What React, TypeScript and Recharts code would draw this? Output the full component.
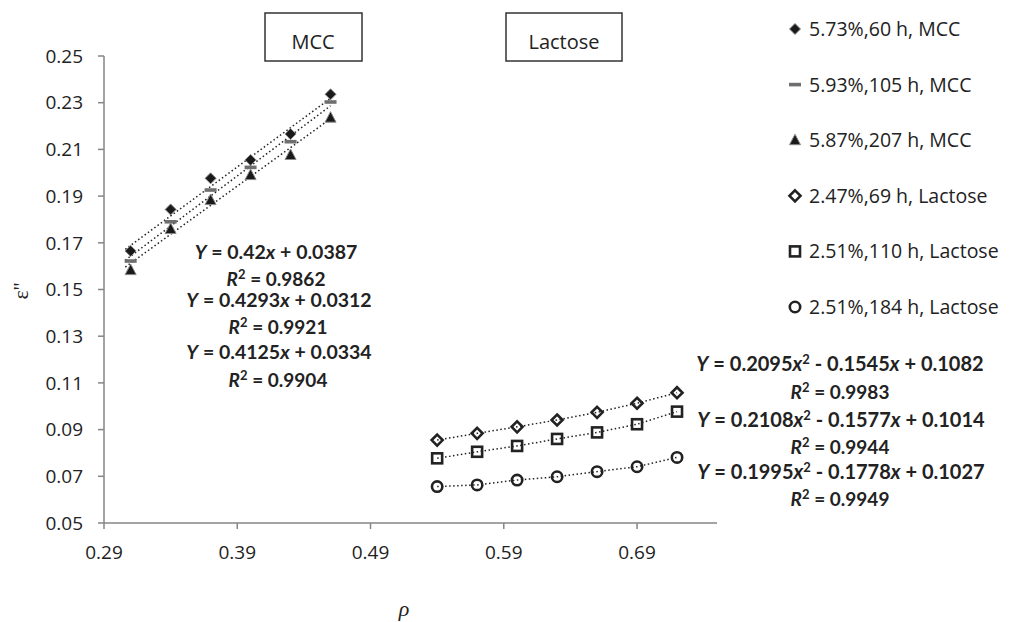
import { ScatterChart, Scatter, XAxis, YAxis, ReferenceLine, Legend } from "recharts";

const mccRho = [0.31, 0.34, 0.37, 0.4, 0.43, 0.46];
const mcc60h = [0.1665, 0.1843, 0.1976, 0.2055, 0.2166, 0.2336];
const mcc105h = [0.1622, 0.179, 0.1926, 0.2023, 0.2133, 0.2303];
const mcc207h = [0.1583, 0.1759, 0.1883, 0.199, 0.2076, 0.2236];

const lacRho = [0.54, 0.57, 0.6, 0.63, 0.66, 0.69, 0.72];
const lac69h = [0.0855, 0.0884, 0.0912, 0.0941, 0.0974, 0.1013, 0.1058];
const lac110h = [0.0777, 0.0805, 0.083, 0.086, 0.0888, 0.0923, 0.0977];
const lac184h = [0.0656, 0.0663, 0.0684, 0.0698, 0.072, 0.0741, 0.0781];

const seriesNames = [
  "5.73%,60 h, MCC",
  "5.93%,105 h, MCC",
  "5.87%,207 h, MCC",
  "2.47%,69 h, Lactose",
  "2.51%,110 h, Lactose",
  "2.51%,184 h, Lactose",
];

// linear trend lines for MCC (slope, intercept as printed on the chart)
const mccSlopes = [0.42, 0.4293, 0.4125];
const mccIntercepts = [0.0387, 0.0312, 0.0334];

const xTicks = [0.29, 0.39, 0.49, 0.59, 0.69];
const yTicks = [0.05, 0.07, 0.09, 0.11, 0.13, 0.15, 0.17, 0.19, 0.21, 0.23, 0.25];

const toPoints = (xs: number[], ys: number[]) => xs.map((x, i) => ({ x, y: ys[i] }));

const FONT = "Lato, 'Open Sans', sans-serif";
const FONT2 = "'Open Sans', sans-serif";
const INK = "#222";
const DOT = "1.5 2.5";

const Diamond = ({ cx, cy }: any) => (
  <path d={`M${cx},${cy - 5.5}L${cx + 5.5},${cy}L${cx},${cy + 5.5}L${cx - 5.5},${cy}Z`} fill="#1a1a1a" stroke="#8a8a8a" strokeWidth={1} />
);
const Dash = ({ cx, cy }: any) => (
  <rect x={cx - 6} y={cy - 1.8} width={12} height={3.6} fill="#6f6f6f" />
);
const Triangle = ({ cx, cy }: any) => (
  <path d={`M${cx},${cy - 6}L${cx + 5.5},${cy + 4.5}L${cx - 5.5},${cy + 4.5}Z`} fill="#1a1a1a" stroke="#8a8a8a" strokeWidth={1} />
);
const HollowDiamond = ({ cx, cy }: any) => (
  <path d={`M${cx},${cy - 5.5}L${cx + 5.5},${cy}L${cx},${cy + 5.5}L${cx - 5.5},${cy}Z`} fill="none" stroke={INK} strokeWidth={2.6} />
);
const HollowSquare = ({ cx, cy }: any) => (
  <rect x={cx - 5} y={cy - 5} width={10} height={10} fill="none" stroke={INK} strokeWidth={2.6} />
);
const HollowCircle = ({ cx, cy }: any) => (
  <circle cx={cx} cy={cy} r={5.2} fill="none" stroke={INK} strokeWidth={2.6} />
);

const shapes = [Diamond, Dash, Triangle, HollowDiamond, HollowSquare, HollowCircle];

const LegendBox = () => (
  <svg width={234} height={330}>
    {seriesNames.map((name, i) => {
      const y = 29 + i * 55.6;
      const Shape = shapes[i];
      return (
        <g key={name}>
          <Shape cx={15} cy={y} />
          <text x={29} y={y + 7} fontFamily={FONT2} fontSize={19.5} fill={INK}>
            {name}
          </text>
        </g>
      );
    })}
  </svg>
);

const Eq = ({ x, y, a, b, c, fs = 19.5 }: { x: number; y: number; a: string; b?: string; c: string; fs?: number }) => (
  <text x={x} y={y} textAnchor="middle" fontFamily={FONT} fontSize={fs} fontWeight="bold" fill={INK}>
    <tspan fontStyle="italic">Y</tspan>
    {" = " + a}
    <tspan fontStyle="italic">x</tspan>
    {b ? (
      <>
        <tspan dy={-7} fontSize={13}>2</tspan>
        <tspan dy={7}>{" - " + b}</tspan>
        <tspan fontStyle="italic">x</tspan>
      </>
    ) : null}
    {" + " + c}
  </text>
);

const R2 = ({ x, y, v }: { x: number; y: number; v: string }) => (
  <text x={x} y={y} textAnchor="middle" fontFamily={FONT} fontSize={19} fontWeight="bold" fill={INK}>
    <tspan fontStyle="italic">R</tspan>
    <tspan dy={-7} fontSize={13}>2</tspan>
    <tspan dy={7}>{" = " + v}</tspan>
  </text>
);

export default function App() {
  const mccSeries = [mcc60h, mcc105h, mcc207h];
  const lacSeries = [lac69h, lac110h, lac184h];
  return (
    <div style={{ position: "absolute", left: 0, top: 0, background: "#fff" }}>
      <ScatterChart width={1014} height={622} margin={{ top: 56, right: 297, bottom: 69, left: 44 }}>
        <XAxis
          type="number"
          dataKey="x"
          domain={[0.29, 0.75]}
          ticks={xTicks}
          allowDataOverflow
          tickFormatter={(v: number) => v.toFixed(2)}
          stroke="#868686"
          strokeWidth={1.5}
          tickSize={6}
          tickMargin={17}
          height={30}
          tick={{ fill: INK, fontFamily: FONT2, fontSize: 19 }}
        />
        <YAxis
          type="number"
          dataKey="y"
          domain={[0.05, 0.25]}
          ticks={yTicks}
          allowDataOverflow
          tickFormatter={(v: number) => v.toFixed(2)}
          stroke="#868686"
          strokeWidth={1.5}
          tickSize={6}
          tickMargin={15}
          width={60}
          tick={{ fill: INK, fontFamily: FONT2, fontSize: 19 }}
        />
        {mccSlopes.map((m, i) => (
          <ReferenceLine
            key={"t" + i}
            segment={[
              { x: mccRho[0] - 0.004, y: m * (mccRho[0] - 0.004) + mccIntercepts[i] },
              { x: mccRho[mccRho.length - 1], y: m * mccRho[mccRho.length - 1] + mccIntercepts[i] },
            ]}
            stroke={INK}
            strokeWidth={1.5}
            strokeDasharray={DOT}
            ifOverflow="visible"
          />
        ))}
        {mccSeries.map((ys, i) => (
          <Scatter key={seriesNames[i]} name={seriesNames[i]} data={toPoints(mccRho, ys)} shape={shapes[i]} isAnimationActive={false} />
        ))}
        {lacSeries.map((ys, i) => (
          <Scatter
            key={seriesNames[i + 3]}
            name={seriesNames[i + 3]}
            data={toPoints(lacRho, ys)}
            shape={shapes[i + 3]}
            line={{ stroke: INK, strokeWidth: 1.5, strokeDasharray: DOT }}
            isAnimationActive={false}
          />
        ))}
        <Legend
          layout="vertical"
          align="center"
          verticalAlign="middle"
          wrapperStyle={{ left: 780, top: 0, width: 234 }}
          content={() => <LegendBox />}
        />

        <g>
          <rect x={265} y={13} width={97} height={48} fill="#fff" stroke="#333" strokeWidth={1.5} />
          <text x={313} y={49} textAnchor="middle" fontFamily={FONT2} fontSize={20} fill={INK}>MCC</text>
          <rect x={506} y={13} width={116} height={48} fill="#fff" stroke="#333" strokeWidth={1.5} />
          <text x={564} y={49} textAnchor="middle" fontFamily={FONT2} fontSize={20} fill={INK}>Lactose</text>
        </g>

        <Eq x={276} y={259} a="0.42" c="0.0387" />
        <R2 x={276} y={286} v="0.9862" />
        <Eq x={279} y={307} a="0.4293" c="0.0312" />
        <R2 x={278} y={334} v="0.9921" />
        <Eq x={279} y={359} a="0.4125" c="0.0334" />
        <R2 x={278} y={387} v="0.9904" />

        <Eq x={840} y={371} a="0.2095" b="0.1545" c="0.1082" fs={20} />
        <R2 x={840} y={399} v="0.9983" />
        <Eq x={841} y={427} a="0.2108" b="0.1577" c="0.1014" fs={20} />
        <R2 x={840} y={454} v="0.9944" />
        <Eq x={841} y={479} a="0.1995" b="0.1778" c="0.1027" fs={20} />
        <R2 x={840} y={506} v="0.9949" />

        <text x={404} y={616} textAnchor="middle" fontFamily="'Liberation Serif', serif" fontStyle="italic" fontSize={22} fill={INK}>ρ</text>
        <text
          x={28}
          y={291}
          textAnchor="middle"
          transform="rotate(-90 28 291)"
          fontFamily="'Liberation Serif', serif"
          fontSize={22}
          fill={INK}
        >
          ε''
        </text>
      </ScatterChart>
    </div>
  );
}
